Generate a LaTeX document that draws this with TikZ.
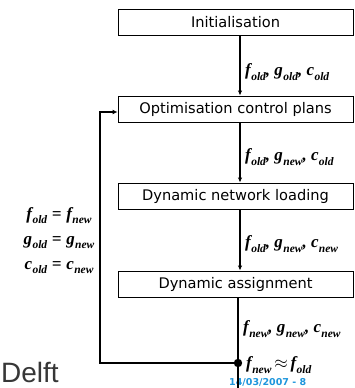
\documentclass[tikz,border=0pt]{standalone}
\usepackage{fontspec}
\setmainfont{DejaVu Sans}
\newfontfamily\serfont{Liberation Serif}
\newfontfamily\lsans{Liberation Sans}
\usetikzlibrary{arrows.meta}
\definecolor{dateblue}{RGB}{30,150,220}
\definecolor{delftgray}{RGB}{55,55,55}
\newcommand\VV[2]{#1\kern0.4pt\raisebox{-0.25em}{\fontsize{11.5}{12}\selectfont #2}}
\begin{document}
\begin{tikzpicture}[x=1pt,y=-1pt,
  box/.style={draw, line width=0.9pt, minimum width=235pt, minimum height=26pt, inner sep=0pt, font=\fontsize{14.6}{16}\selectfont},
  lab/.style={anchor=west, inner sep=0pt, font=\serfont\bfseries\itshape\fontsize{17}{20}\selectfont},
  arr/.style={-{Latex[length=5pt,width=4.5pt]}, line width=1.1pt},
  fb/.style={line width=1.9pt},
  fbarr/.style={line width=1.9pt, -{Latex[length=5pt,width=5pt]}}]
\path[use as bounding box, clip] (0,0) rectangle (354,388);

\node[box] (init) at (235.5,22) {Initialisation};
\node[box] (opt)  at (235.5,109) {Optimisation control plans};
\node[box] (dnl)  at (235.5,196) {Dynamic network loading};
\node[box] (da)   at (235.5,284) {Dynamic assignment};

\coordinate (ax) at (240,0);
\coordinate (bx) at (238,0);
\coordinate (dot) at (238,363);
\coordinate (fbc) at (100,363);
\coordinate (endp) at (238,393);

\draw[arr] (init.south -| ax) -- (opt.north -| ax);
\draw[arr] (opt.south -| ax) -- (dnl.north -| ax);
\draw[arr] (dnl.south -| ax) -- (da.north -| ax);

\node[lab] (l1) at (245,72) {\VV{f}{old}, \VV{g}{old}, \VV{c}{old}};
\node[lab] (l2) at (245,157) {\VV{f}{old}, \VV{g}{new}, \VV{c}{old}};
\node[lab] (l3) at (245,244) {\VV{f}{old}, \VV{g}{new}, \VV{c}{new}};
\node[lab] (l4) at (243,329) {\VV{f}{new}, \VV{g}{new}, \VV{c}{new}};
\node[lab] (l5) at (246,365) {\VV{f}{new}\,$\approx$\,\VV{f}{old}};

\node[inner sep=0pt, font=\serfont\bfseries\itshape\fontsize{17}{25}\selectfont] (eqs) at (59,239)
  {\begin{tabular}{@{}r@{\;=\;}l@{}}\VV{f}{old} & \VV{f}{new}\\ \VV{g}{old} & \VV{g}{new}\\ \VV{c}{old} & \VV{c}{new}\end{tabular}};

\node[anchor=base west, inner sep=0pt, text=dateblue, font=\bfseries\fontsize{9.5}{11}\selectfont] (date) at (229,385) {14/03/2007 - 8};
\node[anchor=base west, inner sep=0pt, text=delftgray, font=\lsans\fontsize{28}{30}\selectfont] (delft) at (1,382) {Delft};

\draw[fb] (da.south -| bx) -- (dot);
\draw[fbarr] (dot) -- (endp);
\draw[fbarr] (dot) -- (fbc) |- ([yshift=-3pt]opt.west);
\fill (dot) circle (4.2pt);
\end{tikzpicture}
\end{document}
